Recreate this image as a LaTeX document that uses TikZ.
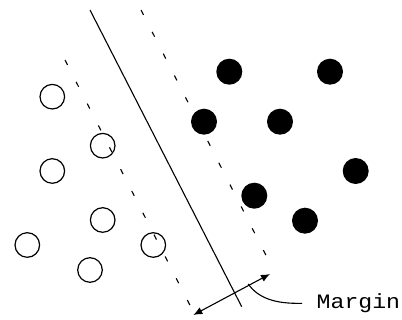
\documentclass[tikz,border=0pt]{standalone}
\usepackage{fontspec}
\usepackage{graphicx}
\newfontfamily\monofont{Liberation Mono}
\usetikzlibrary{arrows.meta}
\tikzset{
  opendot/.style={circle,draw=black,line width=1.2pt,minimum size=24.6pt,inner sep=0pt},
  filldot/.style={circle,fill=black,draw=none,minimum size=26pt,inner sep=0pt},
  marginline/.style={line width=1.1pt,dash pattern=on 5.5pt off 19pt},
  sepline/.style={line width=1.1pt},
  mtip/.tip={Latex[length=9pt,width=7.5pt]}
}
\begin{document}
\begin{tikzpicture}[x=1pt,y=-1pt]
\useasboundingbox (0,0) rectangle (402,320);
% lines
\coordinate (s1) at (90,10);
\coordinate (s2) at (241.7,306.7);
\coordinate (r1) at (141,10);
\coordinate (r2) at (266.7,256.7);
\coordinate (l1) at (65,60);
\coordinate (l2) at (190.7,306.7);
\draw[sepline] (s1) -- (s2);
\draw[marginline] (r1) -- (r2);
\draw[marginline] (l1) -- (l2);
% open circles
\node[opendot] (o1) at (52.3,96.7) {};
\node[opendot] (o2) at (102.7,145.7) {};
\node[opendot] (o3) at (52.3,171) {};
\node[opendot] (o4) at (102.7,220) {};
\node[opendot] (o5) at (27.3,245) {};
\node[opendot] (o6) at (90,270) {};
\node[opendot] (o7) at (153.3,245) {};
% filled circles
\node[filldot] (f1) at (229.3,71.7) {};
\node[filldot] (f2) at (330,71.7) {};
\node[filldot] (f3) at (204,121.7) {};
\node[filldot] (f4) at (280,121.7) {};
\node[filldot] (f5) at (355.7,171) {};
\node[filldot] (f6) at (254.3,195.7) {};
\node[filldot] (f7) at (305,220.7) {};
% margin arrow
\coordinate (m1) at (193.3,315);
\coordinate (m2) at (270,274);
\draw[line width=1.1pt,mtip-mtip] (m1) -- (m2);
% label
\node[anchor=base west,inner sep=0pt,font=\monofont\fontsize{20.5}{22}\selectfont] (lbl) at (316.5,308.3) {\scalebox{1.13}[1]{Margin}};
\coordinate (c1) at (248.3,284);
\coordinate (c2) at (302,303.3);
\draw[line width=1.1pt] (c1) .. controls (258,298) and (275,304) .. (c2);
\end{tikzpicture}
\end{document}
